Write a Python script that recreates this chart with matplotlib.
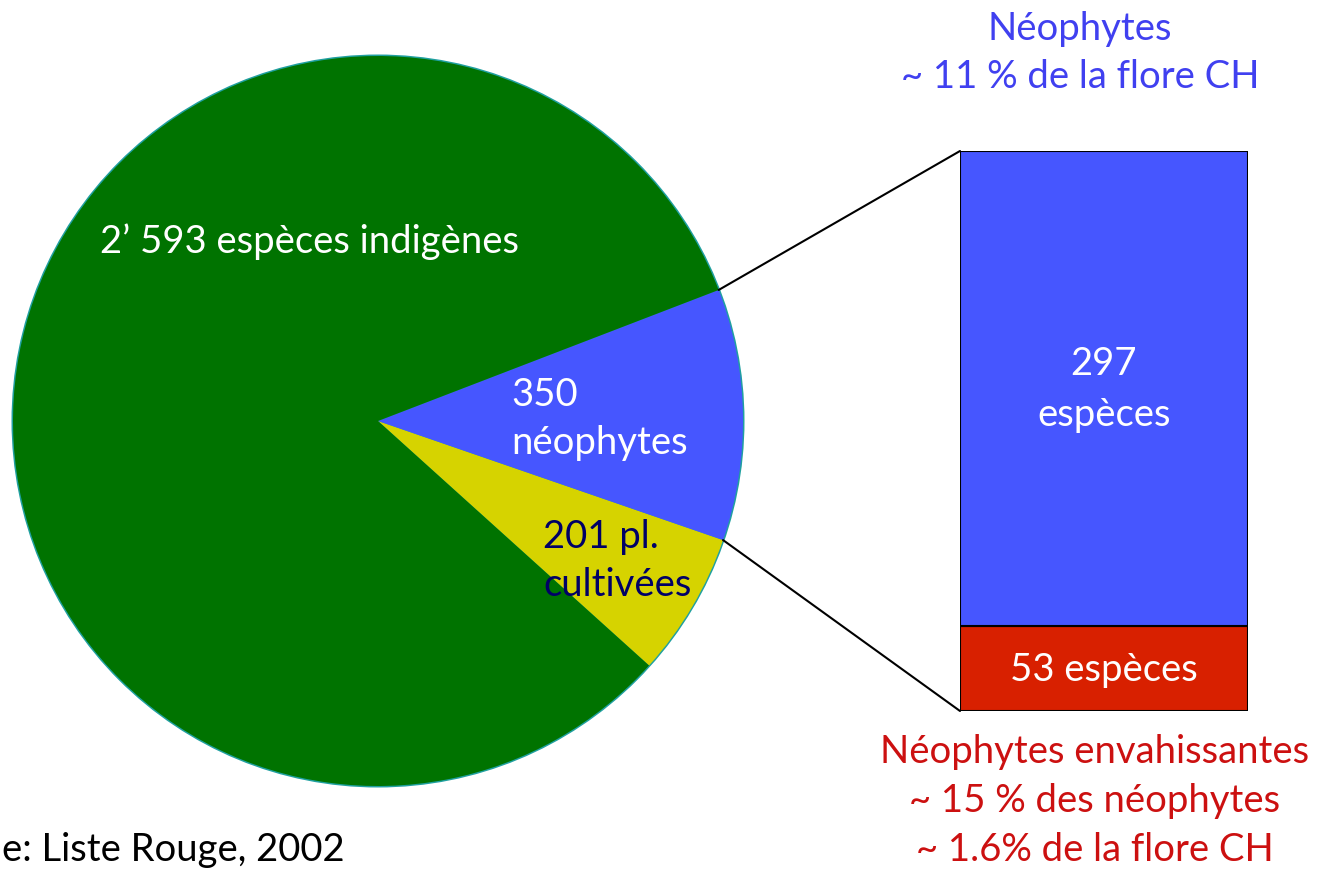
import matplotlib
matplotlib.use("Agg")
import matplotlib.pyplot as plt
from matplotlib.patches import ConnectionPatch, Circle
import numpy as np

# ---- data ----
pie_labels = ["201 pl.\ncultivées", "350\nnéophytes", "2’ 593 espèces indigènes"]
pie_values = [201, 350, 2593]
pie_colors = ["#d6d300", "#4656ff", "#007300"]

bar_labels = ["53 espèces", "297\nespèces"]
bar_values = [53, 297]
bar_colors = ["#d82000", "#4656ff"]

title_top = "Néophytes\n~ 11 % de la flore CH"
title_bottom = "Néophytes envahissantes\n~ 15 % des néophytes\n~ 1.6% de la flore CH"
source = "e: Liste Rouge, 2002"

FONT = ["Lato", "DejaVu Sans"]
plt.rcParams["font.family"] = FONT
FS = 27.5

W, H = 1321, 870
fig = plt.figure(figsize=(W / 100, H / 100), dpi=100)

ax = fig.add_axes([0, 0, 1, 1])
cx, cy, r = 378, H - 422, 365
total = sum(pie_values)
start = -(pie_values[0] + pie_values[1] / 2) / total * 360 + 1

# teal rim behind the pie
ax.add_patch(Circle((cx, cy), r + 1.5, facecolor="#20a0a0", edgecolor="none", zorder=0))
wedges, _ = ax.pie(pie_values, colors=pie_colors, startangle=start,
                   counterclock=True, radius=r, center=(cx, cy), frame=True,
                   wedgeprops=dict(linewidth=0))
ax.set_xlim(0, W)
ax.set_ylim(0, H)
ax.set_aspect("auto")
ax.axis("off")

ax.text(100, H - 242, pie_labels[2], color="white", fontsize=FS,
        ha="left", va="center")
ax.text(511, H - 419, pie_labels[1], color="white", fontsize=FS,
        ha="left", va="center", linespacing=1.38)
ax.text(543, H - 561, pie_labels[0], color="#000066", fontsize=FS,
        ha="left", va="center", linespacing=1.38)

# stacked bar axes
bx0, by0, bw, bh = 960, H - 712, 288, 560
bax = fig.add_axes([bx0 / W, by0 / H, bw / W, bh / H])
bottom = 0
for lab, val, col in zip(bar_labels, bar_values, bar_colors):
    bax.bar(0, val, bottom=bottom, width=1, color=col, edgecolor="black",
            linewidth=1.5)
    bax.text(0, bottom + val / 2, lab, color="white", fontsize=FS,
             ha="center", va="center", linespacing=1.5)
    bottom += val
bax.set_xlim(-0.5, 0.5)
bax.set_ylim(0, sum(bar_values))
bax.axis("off")

# connector lines from neophyte wedge edges to bar corners
w = wedges[1]
for ang, yb in [(w.theta2, sum(bar_values)), (w.theta1, 0)]:
    px = cx + r * np.cos(np.radians(ang))
    py = cy + r * np.sin(np.radians(ang))
    con = ConnectionPatch(xyA=(px, py), coordsA=ax.transData,
                          xyB=(-0.5, yb), coordsB=bax.transData,
                          color="black", linewidth=1.5)
    fig.add_artist(con)

fig.text(1080 / W, 1 - 53 / H, title_top, color="#4040f0", fontsize=FS,
         ha="center", va="center", linespacing=1.44)
fig.text(1095 / W, 1 - 801 / H, title_bottom, color="#cc1010", fontsize=FS,
         ha="center", va="center", linespacing=1.44)
fig.text(2 / W, 1 - 861 / H, source, color="black", fontsize=FS,
         ha="left", va="baseline")

fig.savefig("out.png", dpi=100)
